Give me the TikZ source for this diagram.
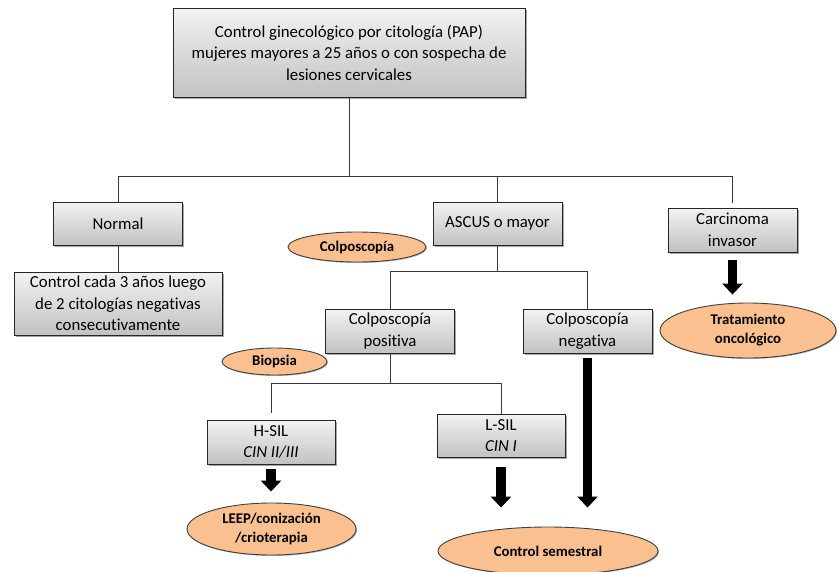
\documentclass[tikz,border=0pt]{standalone}
\usepackage{fontspec}
\setmainfont{Carlito}[Ligatures=NoCommon]
\usetikzlibrary{shadows,arrows.meta,shapes.geometric}
\definecolor{peach}{HTML}{FAC090}
\definecolor{linegray}{HTML}{383838}
\tikzset{
  box/.style={draw=black!85, line width=0.9pt, rectangle, align=center,
    top color=black!5, bottom color=black!24,
    drop shadow={shadow xshift=1.5pt, shadow yshift=-1.5pt, fill=black, opacity=0.35},
    font=\fontsize{16.8}{21.5}\selectfont, inner sep=2pt},
  oval/.style={draw=black!75, line width=0.9pt, ellipse, fill=peach, align=center,
    drop shadow={shadow xshift=1pt, shadow yshift=-1pt, fill=black, opacity=0.3},
    font=\fontsize{14.8}{19}\selectfont\bfseries, inner sep=0pt},
  link/.style={draw=linegray, line width=1pt},
  bigarrow/.style={draw=black, line width=9.5pt, -{Triangle[width=20pt,length=11pt]}}
}
\begin{document}
\begin{tikzpicture}[x=1pt,y=-1pt]
\useasboundingbox (0,0) rectangle (838,571);

% boxes
\node[box, minimum width=352pt, minimum height=89pt] (top) at (349,52.5)
  {Control ginecológico por citología (PAP)\\mujeres mayores a 25 años o con sospecha de\\lesiones cervicales};
\node[box, minimum width=129pt, minimum height=43pt] (normal) at (118,223.5) {Normal};
\node[box, minimum width=208pt, minimum height=63pt] (ctrl) at (118,303.5)
  {Control cada 3 años luego\\de 2 citologías negativas\\consecutivamente};
\node[box, minimum width=129pt, minimum height=43pt] (ascus) at (497.5,223.5) {ASCUS o mayor};
\node[box, minimum width=129pt, minimum height=44pt] (carc) at (732.5,230) {Carcinoma\\invasor};
\node[box, minimum width=129pt, minimum height=44pt] (cpos) at (390,331) {Colposcopía\\positiva};
\node[box, minimum width=129pt, minimum height=44pt] (cneg) at (587.5,331) {Colposcopía\\negativa};
\node[box, minimum width=128pt, minimum height=44pt] (hsil) at (271,442) {H-SIL\\\textit{CIN II/III}};
\node[box, minimum width=128pt, minimum height=43pt] (lsil) at (501,435.5) {L-SIL\\\textit{CIN I}};

% ovals
\node[oval, minimum width=138pt, minimum height=30pt] (colpo) at (357,247) {Colposcopía};
\node[oval, minimum width=105pt, minimum height=27pt] (biop) at (274.5,361.5) {Biopsia};
\node[oval, minimum width=176pt, minimum height=55pt] (trat) at (748,330.5) {Tratamiento\\oncológico};
\node[oval, minimum width=169pt, minimum height=52pt] (leep) at (271.5,529) {LEEP/conización\\/crioterapia};
\node[oval, minimum width=220pt, minimum height=48pt] (csem) at (548,551) {Control semestral};

% tree connectors
\coordinate (h1) at (349,176);
\draw[link] (top.south) -- (h1);
\draw[link] (normal.north) |- (h1);
\draw[link] ([yshift=5pt]carc.north) |- (h1);
\draw[link] (ascus.north) -- (ascus.north |- h1);
\draw[link] (normal.south) -- (ctrl.north);

\coordinate (h2) at (497.5,271);
\draw[link] (ascus.south) -- (h2);
\draw[link] (cpos.north) |- (h2);
\draw[link] (cneg.north) |- (h2);

\coordinate (h3) at (390,383);
\draw[link] (cpos.south) -- (h3);
\draw[link] ([yshift=7pt]hsil.north) |- (h3);
\draw[link] (lsil.north) |- (h3);

% block arrows, each straight down from its box
\draw[bigarrow] ([yshift=-8pt]carc.south) -- ([yshift=8pt]carc.south |- trat.north);
\draw[bigarrow] ([yshift=-5pt]hsil.south) -- ([yshift=11pt]hsil.south |- leep.north);
\draw[bigarrow] ([yshift=-10pt]lsil.south) -- ([yshift=19pt]lsil.south |- csem.north);
\draw[bigarrow] ([yshift=-5pt]cneg.south) -- ([yshift=19pt]cneg.south |- csem.north);
\end{tikzpicture}
\end{document}
